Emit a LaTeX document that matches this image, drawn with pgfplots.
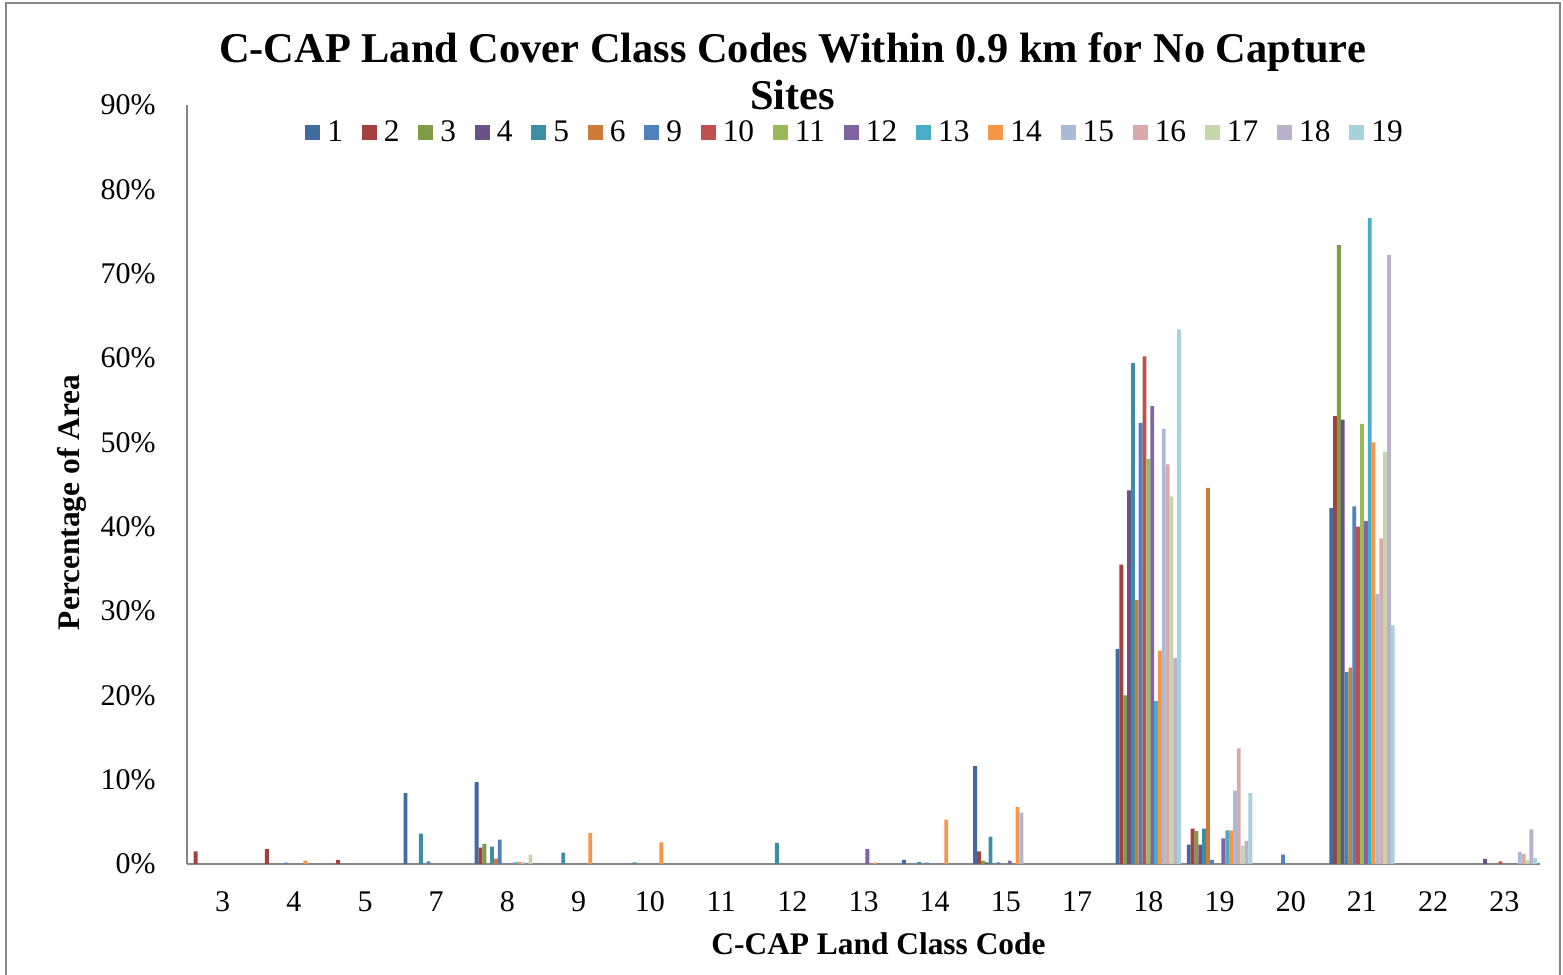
\documentclass[border=0pt]{standalone}
\usepackage{pgfplots}
\pgfplotsset{compat=1.18}
\usepackage{pgfplotstable}
\usepackage{fontspec}
\setmainfont{Liberation Serif}

\definecolor{c1}{HTML}{416A9F}
\definecolor{c2}{HTML}{A3413E}
\definecolor{c3}{HTML}{7F9B48}
\definecolor{c4}{HTML}{6A5289}
\definecolor{c5}{HTML}{3D8EA5}
\definecolor{c6}{HTML}{CE7B38}
\definecolor{c9}{HTML}{4F81BD}
\definecolor{c10}{HTML}{C0504D}
\definecolor{c11}{HTML}{9BBB59}
\definecolor{c12}{HTML}{8064A2}
\definecolor{c13}{HTML}{4BACC6}
\definecolor{c14}{HTML}{F79646}
\definecolor{c15}{HTML}{AABAD7}
\definecolor{c16}{HTML}{D9AAA9}
\definecolor{c17}{HTML}{C6D6AB}
\definecolor{c18}{HTML}{BBB1CB}
\definecolor{c19}{HTML}{A8D1DE}
\definecolor{axisgrey}{HTML}{868686}

% x = category index: 3 4 5 7 8 9 10 11 12 13 14 15 17 18 19 20 21 22 23
\pgfplotstableread{
x  s1   s2   s3   s4   s5    s6   s9   s10  s11  s12  s13  s14  s15  s16  s17  s18  s19
0  0    1.5  0    0    0     0    0    0    0    0    0    0    0    0    0    0    0
1  0    1.75 0    0    0     0    0.15 0    0    0    0    0.4  0    0    0    0    0
2  0    0.5  0    0    0     0    0    0    0    0    0    0    0    0    0    0    0
3  8.4  0    0    0    3.6   0    0.3  0    0    0    0    0    0    0    0    0    0
4  9.7  1.95 2.4  0    2.05  0.65 2.9  0    0    0    0.2  0.25 0.2  0    1.1  0    0
5  0    0    0    0    1.35  0    0    0    0    0    0    3.7  0    0    0    0    0
6  0    0    0    0    0.2   0    0    0    0    0    0    2.55 0    0    0    0    0
7  0    0    0    0    0     0    0    0    0    0    0    0    0    0    0    0    0
8  0    0    0    0    2.5   0    0    0    0    0    0    0    0    0    0    0    0
9  0    0    0    0    0     0    0    0    0    1.8  0    0.15 0    0    0    0    0
10 0.5  0    0    0    0.25  0    0.15 0    0    0    0    5.25 0    0    0    0    0
11 11.6 1.5  0.4  0.2  3.25  0    0.2  0    0    0.4  0    6.75 6.1  0    0    0    0
12 0    0    0    0    0     0    0    0    0    0    0    0    0    0    0    0    0
13 25.5 35.5 20.0 44.3 59.4  31.3 52.3 60.2 48.0 54.3 19.3 25.3 51.6 47.4 43.6 24.4 63.4
14 2.3  4.2  3.9  2.3  4.2   44.6 0.5  0    0    3.05 4.0  4.0  8.7  13.7 2.2  2.75 8.4
15 0    0    0    0    0     0    1.1  0    0    0    0    0    0    0    0    0    0
16 42.2 53.1 73.4 52.7 22.75 23.3 42.4 40.0 52.2 40.7 76.6 50.0 32.0 38.6 48.9 72.2 28.3
17 0    0    0    0    0     0    0    0    0    0    0    0    0    0    0    0    0
18 0    0    0    0.6  0     0    0    0.3  0    0    0    0    1.45 1.2  0.45 4.1  0.7
}\data

\begin{document}
\begin{tikzpicture}
\useasboundingbox (0,0) rectangle (781.5bp,487.5bp);
\draw[color=axisgrey, line width=1bp] (3bp,-2bp) -- (3bp,486bp) -- (780bp,486bp) -- (780bp,-2bp);
\begin{axis}[
  at={(93.5bp,55.5bp)}, anchor=south west,
  scale only axis, width=676.5bp, height=379.5bp,
  xmin=-0.5, xmax=18.5, ymin=0, ymax=90,
  ybar=0pt, bar width=1.925bp,
  axis x line*=bottom, axis y line*=left,
  axis line style={-, draw=axisgrey, line width=1bp},
  major tick length=0pt,
  xtick={0,...,18},
  xticklabels={3,4,5,7,8,9,10,11,12,13,14,15,17,18,19,20,21,22,23},
  ytick={0,10,...,90},
  yticklabels={0\%,10\%,20\%,30\%,40\%,50\%,60\%,70\%,80\%,90\%},
  xticklabel style={font=\fontsize{15bp}{18bp}\selectfont, anchor=north, inner sep=0pt, yshift=-13.5bp},
  yticklabel style={font=\fontsize{15bp}{18bp}\selectfont, anchor=east, inner sep=0pt, xshift=-15.5bp},
  legend columns=17,
  legend image code/.code={\fill[#1] (0bp,-3.75bp) rectangle (7.5bp,3.75bp);},
  legend style={at={(0.493,0.964)}, anchor=center, draw=none, fill=none,
    font=\fontsize{15.7bp}{18bp}\selectfont,
    nodes={inner sep=0pt},
    /tikz/every odd column/.append style={column sep=3.5bp},
    /tikz/every even column/.append style={column sep=9.4bp}},
]
\addplot[fill=c1,  draw=none] table[x=x,y=s1]  {\data};
\addplot[fill=c2,  draw=none] table[x=x,y=s2]  {\data};
\addplot[fill=c3,  draw=none] table[x=x,y=s3]  {\data};
\addplot[fill=c4,  draw=none] table[x=x,y=s4]  {\data};
\addplot[fill=c5,  draw=none] table[x=x,y=s5]  {\data};
\addplot[fill=c6,  draw=none] table[x=x,y=s6]  {\data};
\addplot[fill=c9,  draw=none] table[x=x,y=s9]  {\data};
\addplot[fill=c10, draw=none] table[x=x,y=s10] {\data};
\addplot[fill=c11, draw=none] table[x=x,y=s11] {\data};
\addplot[fill=c12, draw=none] table[x=x,y=s12] {\data};
\addplot[fill=c13, draw=none] table[x=x,y=s13] {\data};
\addplot[fill=c14, draw=none] table[x=x,y=s14] {\data};
\addplot[fill=c15, draw=none] table[x=x,y=s15] {\data};
\addplot[fill=c16, draw=none] table[x=x,y=s16] {\data};
\addplot[fill=c17, draw=none] table[x=x,y=s17] {\data};
\addplot[fill=c18, draw=none] table[x=x,y=s18] {\data};
\addplot[fill=c19, draw=none] table[x=x,y=s19] {\data};
\legend{1,2,3,4,5,6,9,10,11,12,13,14,15,16,17,18,19}
\end{axis}
\node[font=\fontsize{21.2bp}{25bp}\selectfont\bfseries, anchor=base, inner sep=0pt] at (396.25bp,456bp) {C-CAP Land Cover Class Codes Within 0.9 km for No Capture};
\node[font=\fontsize{21.2bp}{25bp}\selectfont\bfseries, anchor=base, inner sep=0pt] at (396.25bp,432.5bp) {Sites};
\node[font=\fontsize{15.7bp}{18bp}\selectfont\bfseries, anchor=base, inner sep=0pt] at (439.25bp,10.5bp) {C-CAP Land Class Code};
\node[font=\fontsize{15.7bp}{18bp}\selectfont\bfseries, anchor=base, inner sep=0pt, rotate=90] at (39.5bp,236.25bp) {Percentage of Area};
\end{tikzpicture}
\end{document}
